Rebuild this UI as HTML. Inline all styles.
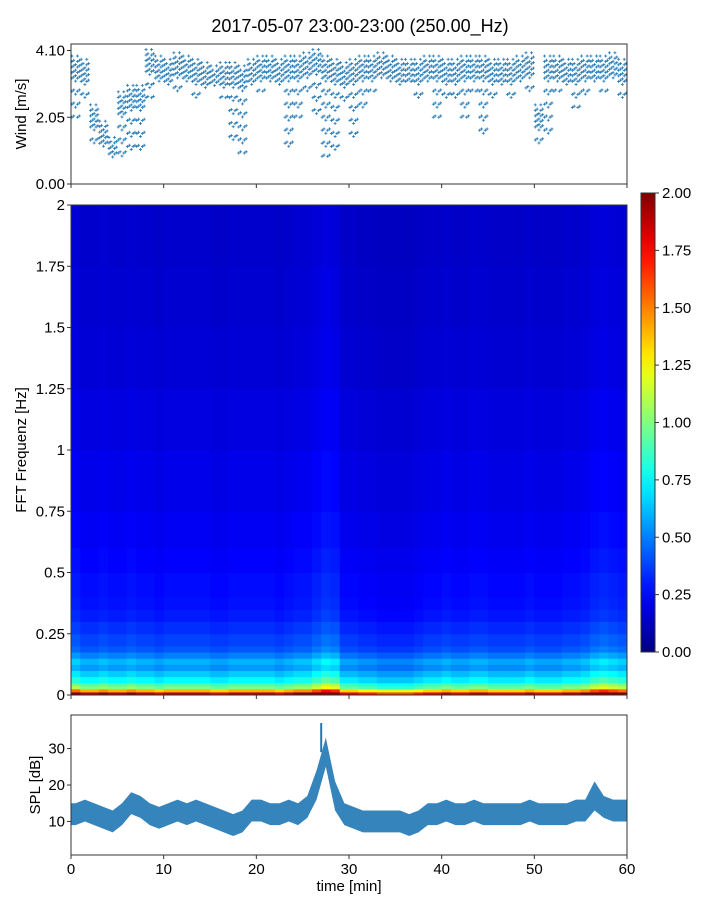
<!DOCTYPE html>
<html><head><meta charset="utf-8">
<style>
body{margin:0;background:#fff;}
svg text{font-family:"Liberation Sans",sans-serif;fill:#000;}
</style></head>
<body>
<svg id="fig" width="720" height="900" viewBox="0 0 720 900" xmlns="http://www.w3.org/2000/svg">
<text x="360" y="32" font-size="18" text-anchor="middle">2017-05-07 23:00-23:00 (250.00_Hz)</text>
<g id="wind"></g>
<g id="spec"></g>
<g id="cbar"></g>
<g id="spl"></g>
</svg>
<script>
const windLo=[2.0,2.6,1.0,0.9,0.8,0.8,1.0,0.9,2.6,3.0,3.0,2.8,3.0,2.6,2.8,3.0,2.6,1.2,0.9,2.8,2.8,3.0,3.0,1.0,2.0,2.8,2.0,0.8,1.0,2.4,1.2,2.2,2.8,3.0,3.0,3.0,3.1,2.6,3.0,2.0,2.4,2.6,2.0,2.8,1.5,2.4,2.8,2.4,3.0,2.6,1.0,1.5,2.8,3.0,2.3,2.6,3.0,2.8,3.0,2.5];
const windHi=[3.9,3.8,2.4,1.9,1.4,2.8,3.0,3.0,4.1,3.9,3.8,4.0,3.9,3.8,3.7,3.6,3.7,3.7,3.6,3.8,3.9,3.9,3.8,3.9,3.9,4.0,4.1,3.9,3.8,3.7,3.8,3.9,3.9,4.0,3.9,3.8,3.8,3.8,3.9,3.9,3.8,3.8,3.9,3.9,3.9,3.8,3.8,3.8,3.9,4.0,2.4,3.9,3.9,3.8,3.8,3.9,3.9,3.9,4.0,3.8];
const splMid=[12,13,12,11,10,12,15,14,12,11,12,13,12,13,12,11,10,9,10,13,13,12,12,13,12,14,20,29,17,12,11,10,10,10,10,10,9,10,12,12,13,12,12,13,12,12,12,12,12,13,12,12,12,12,13,13,17,14,13,13];
const splSpread=[3,3,3,3,3,3,3,3,3,3,3,3,3,3,3,3,3,3,3,3,3,3,3,3,3,3,4,4,4,3,3,3,3,3,3,3,3,3,3,3,3,3,3,3,3,3,3,3,3,3,3,3,3,3,3,3,4,3,3,3];
const freqEdges=[0,0.0125,0.025,0.0375,0.05,0.075,0.1,0.125,0.15,0.175,0.2,0.25,0.3,0.35,0.4,0.5,0.6,0.75,1.0,1.25,1.5,1.75,2.0];
const freqLevel=[1.9,1.4,1.0,0.9,0.75,0.65,0.55,0.6,0.5,0.42,0.38,0.34,0.3,0.28,0.27,0.25,0.23,0.21,0.19,0.17,0.16,0.15];
const timeFactor=[1.1,1.0,1.0,1.05,1.0,1.0,1.05,1.0,1.0,0.95,1.0,1.0,1.0,1.0,1.0,0.95,0.95,1.0,1.0,1.0,1.0,1.0,0.95,1.0,1.05,1.05,1.15,1.25,1.2,0.95,0.95,0.9,0.9,0.85,0.85,0.85,0.85,0.9,0.95,0.95,1.0,0.95,0.95,1.0,1.0,0.95,0.95,0.95,0.95,1.0,0.95,0.95,0.95,1.0,1.0,1.05,1.15,1.2,1.15,1.1];
const xTicks=[0,10,20,30,40,50,60];
const specTicks=[0,0.25,0.5,0.75,1,1.25,1.5,1.75,2];
const specTickLabels=["0","0.25","0.5","0.75","1","1.25","1.5","1.75","2"];
const cbTicks=[0,0.25,0.5,0.75,1,1.25,1.5,1.75,2];
const windTicks=[0,2.05,4.10];
const splTicks=[10,20,30];

const NS="http://www.w3.org/2000/svg";
function mk(parent,tag,attrs,text){const e=document.createElementNS(NS,tag);for(const k in attrs)e.setAttribute(k,attrs[k]);if(text!==undefined)e.textContent=text;parent.appendChild(e);return e;}
const X0=71,X1=627;
const xs=t=>X0+(X1-X0)*t/60;
function jet(v){v=Math.max(0,Math.min(1,v));
 const r=Math.max(0,Math.min(1,1.5-Math.abs(4*v-3))),g=Math.max(0,Math.min(1,1.5-Math.abs(4*v-2))),b=Math.max(0,Math.min(1,1.5-Math.abs(4*v-1)));
 return `rgb(${Math.round(r*255)},${Math.round(g*255)},${Math.round(b*255)})`;}
function frame(g,y0,y1){const r=mk(g,'rect',{x:X0,y:y0,width:X1-X0,height:y1-y0,fill:'none',stroke:'#333','stroke-width':1});}
function xTicksDraw(g,y1,labels){xTicks.forEach(t=>{const l=mk(g,'line',{x1:xs(t),x2:xs(t),y1:y1,y2:y1+4,stroke:'#333'});
 if(labels){const tx=mk(g,'text',{x:xs(t),y:y1+19,'font-size':15,'text-anchor':'middle'},String(t));}});}

// wind panel
(function(){const g=document.getElementById('wind');const y0=44,y1=184,ymax=4.3;const ys=v=>y1-(y1-y0)*v/ymax;
 const dots=mk(g,'g',{fill:'#1f77b4'});
 for(let i=0;i<60;i++){const lo=windLo[i],hi=windHi[i];const dense=Math.max(lo,hi-0.6);
  for(let k=0;k<5;k++){const x=xs(i+k/5+0.1);
   for(let v=hi-0.1*(k%3);v>=lo;v-=(v>=dense?0.17:0.4)){const y=ys(v)+((k*7)%3)-1;
    mk(dots,'rect',{x:x-1.5,y:y-0.4,width:3,height:0.8});mk(dots,'rect',{x:x-0.4,y:y-1.5,width:0.8,height:3});}}}
 frame(g,y0,y1);xTicksDraw(g,y1,false);
 windTicks.forEach(t=>{const y=ys(t);const l=mk(g,'line',{x1:X0-4,x2:X0,y1:y,y2:y,stroke:'#333'});
  const tx=mk(g,'text',{x:X0-6,y:y+5,'font-size':15,'text-anchor':'end'},t.toFixed(2));});
 const yt=mk(g,'text',{x:26,y:114,'font-size':15,'text-anchor':'middle',transform:'rotate(-90 26 114)'},'Wind [m/s]');
})();

// spectrogram
(function(){const g=document.getElementById('spec');const y0=205,y1=695;const ys=f=>y1-(y1-y0)*f/2;
 const cells=mk(g,'g',{});
 for(let i=0;i<60;i++){for(let j=0;j<freqLevel.length;j++){const v=freqLevel[j]*timeFactor[i];
  const ya=ys(freqEdges[j+1]),yb=ys(freqEdges[j]);
  mk(cells,'rect',{x:xs(i),y:ya,width:xs(i+1)-xs(i)+0.5,height:yb-ya+0.5,fill:jet(v/2)});}}
 frame(g,y0,y1);xTicksDraw(g,y1,false);
 specTicks.forEach((t,k)=>{const y=ys(t);const l=mk(g,'line',{x1:X0-4,x2:X0,y1:y,y2:y,stroke:'#333'});
  const tx=mk(g,'text',{x:X0-6,y:y+5,'font-size':15,'text-anchor':'end'},specTickLabels[k]);});
 const yt=mk(g,'text',{x:26,y:450,'font-size':15,'text-anchor':'middle',transform:'rotate(-90 26 450)'},'FFT Frequenz [Hz]');
})();

// colorbar
(function(){const g=document.getElementById('cbar');const x=641,w=14,y0=193,y1=652;const ys=v=>y1-(y1-y0)*v/2;
 const grad=mk(g,'defs',{});const lg=mk(grad,'linearGradient',{id:'jetg',x1:0,y1:1,x2:0,y2:0});
 for(let s=0;s<=20;s++)mk(lg,'stop',{offset:s/20,'stop-color':jet(s/20)});
 const r=mk(g,'rect',{x:x,y:y0,width:w,height:y1-y0,fill:'url(#jetg)',stroke:'#333'});
 cbTicks.forEach(t=>{const y=ys(t);mk(g,'line',{x1:x+w,x2:x+w+4,y1:y,y2:y,stroke:'#333'});
  const tx=mk(g,'text',{x:x+w+7,y:y+5,'font-size':15},t.toFixed(2));});
})();

// SPL
(function(){const g=document.getElementById('spl');const y0=715,y1=855,vmin=0.8,vmax=39.2;const ys=v=>y1-(y1-y0)*(v-vmin)/(vmax-vmin);
 let up=[],dn=[];for(let i=0;i<60;i++){const t=i+0.5;up.push(xs(t)+','+ys(splMid[i]+splSpread[i]));dn.unshift(xs(t)+','+ys(splMid[i]-splSpread[i]));}
 up.unshift(xs(0)+','+ys(splMid[0]+splSpread[0]));up.push(xs(60)+','+ys(splMid[59]+splSpread[59]));
 dn.push(xs(0)+','+ys(splMid[0]-splSpread[0]));dn.unshift(xs(60)+','+ys(splMid[59]-splSpread[59]));
 const band=mk(g,'polygon',{points:up.concat(dn).join(' '),fill:'#1f77b4','fill-opacity':0.9});
 const pk=mk(g,'line',{x1:xs(27),x2:xs(27),y1:ys(splMid[27]),y2:ys(37),stroke:'#1f77b4','stroke-width':2});
 frame(g,y0,y1);xTicksDraw(g,y1,true);
 splTicks.forEach(t=>{const y=ys(t);mk(g,'line',{x1:X0-4,x2:X0,y1:y,y2:y,stroke:'#333'});
  const tx=mk(g,'text',{x:X0-6,y:y+5,'font-size':15,'text-anchor':'end'},String(t));});
 const yt=mk(g,'text',{x:40,y:785,'font-size':15,'text-anchor':'middle',transform:'rotate(-90 40 785)'},'SPL [dB]');
 const xt=mk(g,'text',{x:349,y:891,'font-size':15,'text-anchor':'middle'},'time [min]');
})();
</script>
</body></html>
